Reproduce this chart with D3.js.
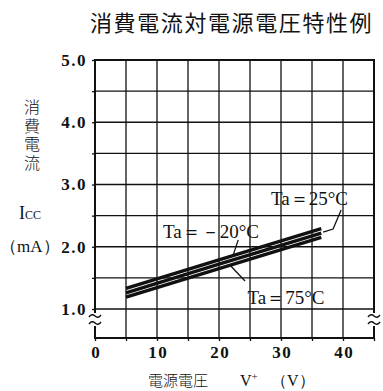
<!DOCTYPE html>
<html>
<head>
<meta charset="utf-8">
<script src="https://cdn.jsdelivr.net/npm/d3@7"></script>
<style>
  body { margin: 0; background: #fff; }
  svg { display: block; }
</style>
</head>
<body>
<svg id="chart" width="383" height="391"></svg>
<script>
// Supply current vs. supply voltage, three ambient temperatures
const voltages = [5, 20, 36.5];
const iccMinus20 = [1.33, 1.79, 2.29];
const icc25 = [1.26, 1.72, 2.22];
const icc75 = [1.19, 1.65, 2.15];
const seriesLabels = ["Ta＝－20°C", "Ta＝25°C", "Ta＝75°C"];

const xTickValues = [0, 5, 10, 15, 20, 25, 30, 35, 40, 45];
const xTickLabels = ["0", "", "10", "", "20", "", "30", "", "40", ""];
const yTickValues = [1, 1.5, 2, 2.5, 3, 3.5, 4, 4.5, 5];
const yTickLabels = ["1.0", "", "2.0", "", "3.0", "", "4.0", "", "5.0"];

const ink = "#111";
const serif = "'Liberation Serif', 'DejaVu Serif', serif";
const cjk = "'Noto Sans CJK JP', 'Noto Sans', sans-serif";

const svg = d3.select("#chart");
const x = d3.scaleLinear().domain([0, 45]).range([95, 374]);
const y = d3.scaleLinear().domain([1, 5]).range([309, 60]);
const yBottom = 338; // broken-axis baseline (0 mA)

// Grid
const grid = svg.append("g");
grid.selectAll("line.h").data(yTickValues).join("line").attr("class", "h")
  .attr("x1", x(0)).attr("x2", x(45))
  .attr("y1", d => y(d)).attr("y2", d => y(d))
  .attr("stroke", ink).attr("stroke-width", 1.3);
grid.selectAll("line.v").data(xTickValues).join("line").attr("class", "v")
  .attr("x1", d => x(d)).attr("x2", d => x(d))
  .attr("y1", y(5)).attr("y2", yBottom)
  .attr("stroke", ink).attr("stroke-width", 1.3);

// Frame
svg.append("rect")
  .attr("x", x(0)).attr("y", y(5))
  .attr("width", x(45) - x(0)).attr("height", yBottom - y(5))
  .attr("fill", "none").attr("stroke", ink).attr("stroke-width", 2);

// Axis break marks on both sides
[x(0), x(45)].forEach(bx => {
  svg.append("rect").attr("x", bx - 3).attr("y", 313).attr("width", 6).attr("height", 13).attr("fill", "#fff");
  [316, 323].forEach(wy => {
    svg.append("path")
      .attr("d", `M${bx - 6},${wy + 1} q3,-4 6,-1 t6,-1`)
      .attr("fill", "none").attr("stroke", ink).attr("stroke-width", 1.4);
  });
});

// Axes
const yAxis = svg.append("g").attr("transform", `translate(${x(0)},0)`)
  .call(d3.axisLeft(y).tickValues(yTickValues)
    .tickFormat((d, i) => yTickLabels[i]).tickSize(3).tickPadding(5));
const xAxis = svg.append("g").attr("transform", `translate(0,${yBottom})`)
  .call(d3.axisBottom(x).tickValues(xTickValues)
    .tickFormat((d, i) => xTickLabels[i]).tickSize(3).tickPadding(5));
[yAxis, xAxis].forEach(ax => {
  ax.select(".domain").remove();
  ax.selectAll(".tick line").attr("stroke", ink).attr("stroke-width", 1.3);
  ax.selectAll(".tick text")
    .attr("fill", ink)
    .style("font-family", serif).style("font-weight", "bold")
    .style("font-size", "17px").style("letter-spacing", "1.5px");
});
xAxis.selectAll(".tick text").attr("dx", "0.75px");

// Current curves
const line = d3.line().x(d => x(d[0])).y(d => y(d[1]));
const series = [iccMinus20, icc25, icc75].map(vals => voltages.map((v, i) => [v, vals[i]]));
svg.append("g").selectAll("path").data(series).join("path")
  .attr("d", line)
  .attr("fill", "none").attr("stroke", ink).attr("stroke-width", 3.4);

// Leader lines (in data units)
const leaders = [
  [[22.3, 1.87], [23.1, 2.11]],
  [[36.8, 2.235], [38.4, 2.285], [39.7, 2.59]],
  [[21.9, 1.69], [24.2, 1.45]]
];
svg.append("g").selectAll("path").data(leaders).join("path")
  .attr("d", line)
  .attr("fill", "none").attr("stroke", ink).attr("stroke-width", 1.3);

// Series labels
const labelAt = [[18.7, 2.24], [34.6, 2.78], [30.8, 1.19]];
svg.append("g").selectAll("text").data(seriesLabels).join("text")
  .attr("x", (d, i) => x(labelAt[i][0]))
  .attr("y", (d, i) => y(labelAt[i][1]))
  .attr("dy", "0.35em")
  .attr("text-anchor", "middle")
  .attr("fill", ink)
  .style("font-family", serif).style("font-size", "19px")
  .text(d => d);

// Title
svg.append("text")
  .attr("x", 90).attr("y", 31)
  .attr("fill", ink)
  .style("font-family", cjk).style("font-weight", "400")
  .style("font-size", "22px").style("letter-spacing", "1.6px")
  .text("消費電流対電源電圧特性例");

// Y axis title, set vertically
svg.append("text")
  .attr("x", 32).attr("y", 99)
  .attr("fill", ink)
  .style("writing-mode", "vertical-rl")
  .style("text-orientation", "upright")
  .style("font-family", cjk).style("font-weight", "300")
  .style("font-size", "16px").style("letter-spacing", "2.5px")
  .text("消費電流");
const icc = svg.append("text").attr("x", 30).attr("y", 219)
  .attr("text-anchor", "middle").attr("fill", ink)
  .style("font-family", serif).style("font-size", "18px");
icc.append("tspan").text("I");
icc.append("tspan").style("font-size", "12px").text("CC");
svg.append("text").attr("x", 0).attr("y", 252).attr("fill", ink)
  .style("font-family", serif).style("font-size", "17px")
  .text("（mA）");

// X axis title
const xt = svg.append("text").attr("y", 386).attr("fill", ink)
  .style("font-family", serif).style("font-size", "16px");
xt.append("tspan").attr("x", 148).style("font-family", cjk).style("font-weight", "300").style("font-size", "15px").text("電源電圧");
xt.append("tspan").attr("x", 240).text("V");
xt.append("tspan").attr("dy", -6).style("font-size", "11px").text("+");
xt.append("tspan").attr("x", 271).attr("dy", 6).text("（V）");
</script>
</body>
</html>
